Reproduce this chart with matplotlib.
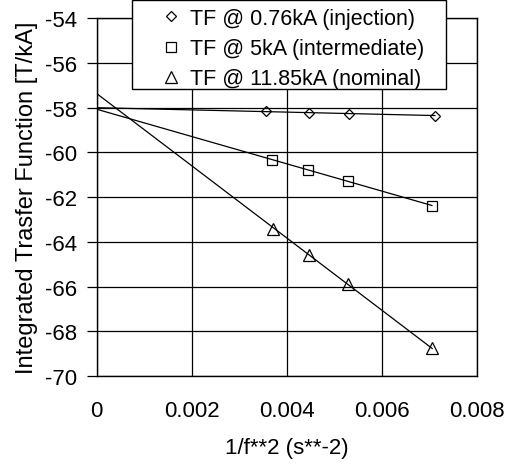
import numpy as np
import matplotlib.pyplot as plt
from matplotlib.patches import Rectangle

plt.rcParams['font.family'] = ['Liberation Sans', 'DejaVu Sans']
plt.rcParams['axes.unicode_minus'] = False

# 1/f^2 values (s^-2) and integrated transfer function (T/kA)
x_inj = [0.003559, 0.004469, 0.005310, 0.007111]
tf_inj = [-58.15, -58.22, -58.27, -58.36]

x_int = [0.003691, 0.004448, 0.005276, 0.007048]
tf_int = [-60.32, -60.78, -61.29, -62.38]

x_nom = [0.003699, 0.004456, 0.005276, 0.007054]
tf_nom = [-63.42, -64.57, -65.87, -68.75]

# fitted value at 1/f^2 = 0 (extrapolation)
tf0 = [-58.0, -58.07, -57.37]

labels = ['TF @ 0.76kA (injection)', 'TF @ 5kA (intermediate)',
          'TF @ 11.85kA (nominal)']
markers = ['D', 's', '^']
msizes = [5.3, 7.5, 8.5]

fig = plt.figure(figsize=(5.12, 4.64), dpi=100)
ax = fig.add_axes([0.189, 0.1875, 0.743, 0.771])

series = [(x_inj, tf_inj), (x_int, tf_int), (x_nom, tf_nom)]
handles = []
for (xs, ys), b, m, ms, lab in zip(series, tf0, markers, msizes, labels):
    xs = np.array(xs)
    ys = np.array(ys)
    # least squares slope with fixed intercept
    k = np.sum(xs * (ys - b)) / np.sum(xs ** 2)
    xl = np.array([0, xs[-1]])
    ax.plot(xl, b + k * xl, color='black', lw=0.9, zorder=3)
    h, = ax.plot(xs, ys, linestyle='none', marker=m, ms=ms, mfc='none',
                 mec='black', mew=0.9, label=lab, zorder=4)
    handles.append(h)

ax.set_xlim(0, 0.008)
ax.set_ylim(-70, -54)
ax.set_xticks(np.arange(0, 0.0081, 0.002))
ax.set_xticklabels(['0', '0.002', '0.004', '0.006', '0.008'])
ax.set_yticks(np.arange(-70, -53, 2))
ax.grid(True, color='black', lw=0.9)
ax.tick_params(axis='x', length=0, pad=17, labelsize=16)
ax.tick_params(axis='y', length=7, width=0.9, pad=7, labelsize=16)
for s in ax.spines.values():
    s.set_linewidth(1.0)
ax.set_xlabel('1/f**2 (s**-2)', fontsize=16, labelpad=12)
ax.set_ylabel('Integrated Trasfer Function [T/kA]', fontsize=17, labelpad=5)

# legend box sits over the top of the plot
fig.add_artist(Rectangle((0.2572, 0.806), 0.614, 0.1918,
                         transform=fig.transFigure, facecolor='white',
                         edgecolor='black', lw=1.0, zorder=5))
leg = fig.legend(handles=handles, loc='upper left',
                 bbox_to_anchor=(0.304, 0.981), borderaxespad=0,
                 fontsize=15.5, frameon=False, handlelength=1.4,
                 handletextpad=0.2, labelspacing=0.43, borderpad=0)
leg.set_zorder(6)

fig.savefig('out.png', dpi=100)
